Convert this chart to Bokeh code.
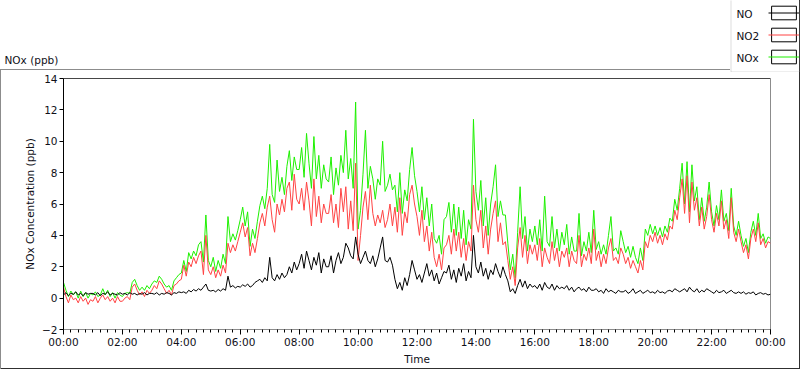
from bokeh.plotting import figure
from bokeh.models import (FixedTicker, Range1d, Legend, LegendItem, Label,
                          BoxAnnotation, Span, ColumnDataSource)
from bokeh.embed import file_html
from bokeh.resources import INLINE

# 5-minute samples, 00:00 .. 24:00 (hours)
step_minutes = 5

no_ppb = [
    0.2, 0.35, 0.15, 0.3, 0.25, 0.4, 0.2, 0.3, 0.15, 0.35, 0.25, 0.3,
    0.3, 0.2, 0.35, 0.15, 0.3, 0.25, 0.4, 0.2, 0.3, 0.25, 0.2, 0.35,
    0.25, 0.3, 0.2, 0.35, 0.25, 0.3, 0.2, 0.3, 0.25, 0.35, 0.2, 0.3,
    0.3, 0.25, 0.35, 0.2, 0.3, 0.25, 0.35, 0.3, 0.2, 0.35, 0.3, 0.4,
    0.35, 0.4, 0.3, 0.5, 0.4, 0.55, 0.45, 0.6, 0.5, 0.7, 0.9, 0.5,
    0.45, 0.5, 0.4, 0.55, 0.45, 0.6, 0.5, 1.4, 0.7, 0.8, 0.65, 0.75,
    0.7, 0.85, 0.75, 0.9, 0.7, 0.8, 1.0, 1.1, 1.2, 1.0, 1.3, 1.1,
    2.6, 1.3, 1.1, 1.5, 1.2, 1.6, 1.3, 1.5, 2.0, 1.6, 2.3, 1.8,
    2.2, 2.8, 1.9, 3.0, 2.4, 1.8, 2.6, 2.1, 2.9, 1.6, 2.5, 2.0,
    2.0, 2.7, 1.6, 2.4, 2.9, 2.2, 2.6, 3.5, 3.2, 2.7, 2.5, 3.9,
    2.8, 2.2, 2.6, 3.0, 2.4, 2.2, 2.7, 2.0, 2.5, 3.2, 3.9, 2.4,
    2.3, 2.6, 2.1, 1.2, 0.6, 1.0, 0.5, 1.3, 0.8, 1.5, 2.4, 1.8,
    1.2, 1.5, 1.0, 1.6, 2.2, 1.4, 1.8, 1.1, 1.6, 0.9, 1.3, 1.7,
    1.6, 2.1, 1.2, 1.8, 1.0, 1.9, 1.4, 2.2, 1.1, 1.7, 1.3, 4.0,
    2.0, 1.6, 2.3, 1.4, 1.9, 1.2, 1.8, 1.5, 2.2, 1.7, 1.3, 2.0,
    1.5, 1.1, 0.4, 0.6, 0.3, 0.8, 1.2, 0.7, 1.1, 0.6, 0.9, 0.7,
    0.8, 0.6, 0.9, 0.5, 1.0, 0.7, 0.6, 0.9, 0.5, 0.8, 0.6, 0.7,
    0.6, 0.8, 0.5, 0.7, 0.4, 0.6, 0.7, 0.5, 0.6, 0.4, 0.7, 0.5,
    0.5, 0.6, 0.4, 0.5, 0.3, 0.6, 0.4, 0.5, 0.4, 0.3, 0.5, 0.4,
    0.4, 0.5, 0.3, 0.4, 0.6, 0.3, 0.4, 0.5, 0.3, 0.4, 0.5, 0.35,
    0.4, 0.3, 0.5, 0.35, 0.4, 0.3, 0.45, 0.5, 0.4, 0.6, 0.5, 0.4,
    0.5, 0.6, 0.4, 0.7, 0.5, 0.4, 0.6, 0.35, 0.5, 0.4, 0.6, 0.5,
    0.4, 0.3, 0.5, 0.35, 0.4, 0.5, 0.3, 0.4, 0.5, 0.35, 0.3, 0.4,
    0.3, 0.4, 0.25, 0.35, 0.3, 0.4, 0.2, 0.3, 0.35, 0.25, 0.3, 0.2,
    0.25,
]

no2_ppb = [
    0.7, 0.1, -0.3, 0.2, -0.1, 0.0, -0.3, 0.1, -0.2, 0.0, -0.4, -0.1,
    -0.2, 0.1, -0.3, 0.0, 0.2, -0.1, 0.1, -0.2, 0.0, -0.3, 0.1, -0.2,
    -0.2, 0.0, 0.1, -0.1, 0.7, 0.9, 0.5, 0.2, 0.4, 0.1, 0.5, 0.3,
    0.5, 0.8, 0.6, 1.1, 0.9, 0.6, 0.3, 0.5, 0.2, 0.8, 0.9, 1.1,
    1.2, 2.1, 1.4, 2.3, 2.0, 2.6, 2.2, 2.7, 3.0, 1.5, 4.0, 1.8,
    1.5, 2.0, 1.3, 1.8, 1.4, 2.1, 1.6, 3.5, 2.9, 3.4, 3.0, 3.6,
    4.2, 4.8, 3.9, 4.5, 2.7, 3.5, 2.9, 3.8, 4.8, 5.4, 4.6, 5.8,
    6.5, 5.0, 4.2, 6.0, 5.3, 6.3, 5.5, 7.0, 7.4, 5.6, 7.9, 6.3,
    6.0, 7.0, 5.6, 7.4, 6.2, 4.6, 7.6, 5.2, 6.5, 4.8, 6.0, 5.4,
    5.4, 6.6, 4.8, 6.0, 4.5, 7.0, 5.5, 7.1, 4.4, 6.2, 4.3, 8.6,
    2.4, 4.0, 5.8, 6.8, 5.0, 7.2, 5.4, 4.6, 5.3, 4.8, 5.6, 4.5,
    5.0, 6.0, 4.6, 5.8, 4.2, 6.4, 4.0, 5.5, 4.8, 6.6, 7.2, 6.0,
    5.2, 4.0, 5.6, 3.6, 4.6, 3.0, 4.2, 2.6, 2.0, 2.8, 1.8, 3.2,
    3.4, 4.0, 2.8, 4.4, 3.0, 4.2, 2.6, 3.8, 2.4, 3.6, 3.0, 7.2,
    5.0, 4.2, 5.6, 3.2, 4.6, 2.8, 4.4, 5.4, 6.2, 3.6, 4.8, 3.4,
    3.6, 2.4, 1.2, 2.0, 0.8, 3.2, 4.5, 2.6, 4.0, 2.2, 3.4, 2.8,
    3.4, 2.4, 3.8, 2.0, 3.2, 2.6, 2.2, 3.6, 2.4, 3.2, 2.0, 3.0,
    2.6, 3.2, 2.0, 3.0, 2.4, 2.2, 4.0, 2.0, 2.8, 2.4, 3.2, 2.2,
    4.4, 2.4, 3.0, 2.0, 2.8, 2.2, 3.2, 3.8, 2.4, 2.6, 2.2, 3.2,
    2.8, 2.2, 2.6, 1.9, 2.4, 2.0, 1.6, 2.4, 1.8, 3.6, 3.2, 4.0,
    3.6, 4.2, 3.5, 4.0, 3.4, 4.1, 3.7, 4.6, 4.4, 5.6, 5.0, 6.4,
    7.6, 5.4, 7.8, 4.8, 7.4, 5.6, 6.4, 4.6, 5.8, 4.4, 5.2, 6.6,
    5.0, 4.2, 5.4, 4.6, 6.2, 4.4, 5.0, 3.8, 6.4, 4.2, 3.6, 4.4,
    3.6, 2.9, 3.4, 2.5, 3.8, 4.4, 3.6, 4.8, 3.4, 3.8, 3.2, 3.6,
    3.5,
]

nox_ppb = [
    1.0, 0.5, 0.1, 0.45, 0.2, 0.4, 0.0, 0.45, 0.1, 0.35, 0.0, 0.3,
    0.2, 0.4, 0.1, 0.2, 0.6, 0.2, 0.5, 0.1, 0.35, 0.0, 0.35, 0.2,
    0.1, 0.3, 0.35, 0.3, 1.0, 1.2, 0.8, 0.5, 0.7, 0.5, 0.8, 0.6,
    0.9, 1.1, 1.0, 1.4, 1.2, 0.9, 0.7, 0.8, 0.5, 1.1, 1.3, 1.5,
    1.6, 2.4, 1.7, 2.9, 2.5, 3.0, 2.7, 3.4, 3.6, 2.3, 5.3, 2.4,
    2.0, 2.6, 1.7, 2.4, 1.9, 2.8, 2.2, 5.2, 3.6, 4.1, 3.7, 4.3,
    5.0, 5.8, 4.6, 5.5, 3.3, 4.4, 3.8, 4.9, 5.9, 6.5, 5.7, 7.0,
    9.8, 6.6, 6.1, 8.8, 6.8, 7.7, 6.6, 8.4, 9.4, 7.5, 9.0, 8.2,
    8.2, 9.6, 7.7, 10.5, 8.6, 7.0, 10.3, 7.6, 9.1, 7.0, 8.5, 7.6,
    7.4, 9.0, 6.6, 8.3, 7.2, 9.1, 8.0, 10.7, 7.6, 8.9, 7.0, 12.5,
    4.4, 5.6, 7.9, 10.7, 7.0, 8.4, 7.6, 6.3, 7.6, 7.2, 10.0, 6.8,
    7.2, 7.9, 6.9, 7.2, 5.5, 8.0, 5.4, 6.9, 6.2, 8.2, 9.6, 7.8,
    6.8, 5.5, 7.1, 5.0, 6.4, 4.6, 6.0, 3.8, 3.5, 4.0, 2.8, 5.0,
    5.2, 6.1, 4.2, 6.0, 4.0, 5.8, 3.8, 5.6, 3.4, 5.0, 4.4, 11.4,
    6.8, 5.6, 7.5, 4.6, 6.4, 4.0, 6.0, 7.1, 8.5, 5.2, 6.2, 5.3,
    5.3, 3.5, 1.8, 2.8, 1.3, 4.2, 7.1, 3.8, 5.2, 3.0, 4.4, 3.6,
    4.6, 3.4, 5.0, 3.0, 6.5, 3.6, 3.3, 5.2, 3.2, 4.4, 3.0, 4.2,
    3.4, 4.7, 2.8, 3.9, 3.0, 3.0, 5.4, 2.7, 3.6, 3.0, 4.2, 2.9,
    5.6, 3.1, 3.6, 2.8, 3.4, 2.8, 4.0, 5.2, 3.0, 3.2, 2.8, 4.3,
    3.6, 2.9, 3.3, 2.6, 3.3, 2.6, 2.2, 3.2, 2.4, 4.4, 4.0, 4.7,
    4.1, 4.6, 4.0, 4.5, 3.9, 4.6, 4.2, 5.1, 4.9, 6.3, 5.6, 7.0,
    8.6, 6.0, 8.7, 5.5, 8.5, 6.2, 7.1, 5.0, 6.4, 4.9, 5.8, 7.4,
    5.5, 4.6, 5.9, 5.0, 6.9, 4.9, 5.4, 4.3, 7.0, 4.6, 4.0, 4.9,
    4.0, 3.3, 3.8, 2.9, 4.2, 4.9, 4.0, 5.4, 3.8, 4.1, 3.5, 3.9,
    3.8,
]

hours = [i * step_minutes / 60 for i in range(len(no_ppb))]

tick_hours = [0, 2, 4, 6, 8, 10, 12, 14, 16, 18, 20, 22, 24]
tick_labels = ["00:00", "02:00", "04:00", "06:00", "08:00", "10:00", "12:00",
               "14:00", "16:00", "18:00", "20:00", "22:00", "00:00"]
y_ticks = [-2, 0, 2, 4, 6, 8, 10, 12, 14]
series_names = ["NO", "NO2", "NOx"]
series_fields = ["no", "no2", "nox"]
series_colors = ["#000000", "#ff4343", "#1ef000"]
panel_caption = "NOx (ppb)"

FONT = "DejaVu Sans"
FS = "10.5px"
TXT = "#101018"
GREY = "#8c8c8c"
DARK = "#303030"

# panel edges drawn as CSS backgrounds of the chart element
edge = lambda c: "linear-gradient(%s,%s)" % (c, c)
panel_styles = {
    "background-image": ", ".join([edge(GREY), edge(GREY), edge(DARK), edge(DARK)]),
    "background-position": "0px 69px, 0px 69px, 0px 368px, 799px 0px",
    "background-size": "730px 1px, 1px 300px, 800px 1px, 1px 369px",
    "background-repeat": "no-repeat",
}

src = ColumnDataSource(dict(t=hours, no=no_ppb, no2=no2_ppb, nox=nox_ppb))

# ---------------- main chart ----------------
p = figure(frame_width=707, frame_height=251,
           min_border_left=63, min_border_right=30,
           min_border_top=78, min_border_bottom=40,
           x_range=Range1d(0, 24), y_range=Range1d(-2, 14),
           output_backend="svg", toolbar_location=None,
           background_fill_color="white", border_fill_color=None)
p.styles = panel_styles
p.grid.visible = False
p.outline_line_color = GREY

# draw order: NOx (back), NO2, NO (front)
for field, col in zip(series_fields[::-1], series_colors[::-1]):
    p.line("t", field, source=src, color=col, line_width=1)

xa = p.xaxis[0]
xa.ticker = FixedTicker(ticks=tick_hours,
                        minor_ticks=[i / 4 for i in range(0, 97)])
xa.major_label_overrides = {h: lab for h, lab in zip(tick_hours, tick_labels)}
xa.axis_label = "Time"
xa.axis_line_color = GREY
xa.major_tick_line_color = "black"
xa.minor_tick_line_color = "black"
xa.major_tick_in = 0
xa.major_tick_out = 5
xa.minor_tick_in = 0
xa.minor_tick_out = 3
xa.major_label_standoff = 1
xa.axis_label_standoff = 2

ya = p.yaxis[0]
ya.ticker = FixedTicker(ticks=y_ticks, minor_ticks=[])
ya.axis_label = "NOx Concentration (ppb)"
ya.axis_line_color = "black"
ya.major_tick_line_color = "black"
ya.major_tick_in = 0
ya.major_tick_out = 4
ya.major_label_standoff = 2
ya.axis_label_standoff = 3

for ax in (xa, ya):
    ax.major_label_text_font = FONT
    ax.major_label_text_font_size = FS
    ax.major_label_text_color = TXT
    ax.axis_label_text_font = FONT
    ax.axis_label_text_font_size = FS
    ax.axis_label_text_font_style = "normal"
    ax.axis_label_text_color = TXT

p.add_layout(Span(location=14, dimension="width", line_color="black",
                  line_width=1))

# ---------------- header overlay: caption + legend (pixel coordinates) ----
top = figure(width=800, height=72, min_border=0,
             min_border_left=0, min_border_right=0,
             min_border_top=0, min_border_bottom=0,
             x_range=Range1d(0, 800), y_range=Range1d(72, 0),
             x_axis_type=None, y_axis_type=None,
             output_backend="svg", toolbar_location=None,
             background_fill_alpha=0, border_fill_color=None)
top.styles = {"position": "absolute", "left": "0px", "top": "0px",
              "z-index": "2"}
top.grid.visible = False
top.outline_line_color = None

top.add_layout(BoxAnnotation(left=730.5, right=799.5, top=-5, bottom=71.5,
                             fill_alpha=0, line_color=GREY, line_width=1))
top.add_layout(Label(x=4, y=59, text=panel_caption, text_font=FONT,
                     text_font_size=FS, text_baseline="middle",
                     text_color=TXT))

# legend proxies: the series themselves, hidden in this header strip
swatch_box = top.quad(left="t", right="t", bottom="no", top="nox", source=src,
                      fill_color="white", line_color="black", line_width=1,
                      visible=False)
items = []
for i, (name, field, col) in enumerate(zip(series_names, series_fields,
                                           series_colors)):
    rl = top.line("t", field, source=src, color=col, line_width=1,
                  visible=False)
    items.append(LegendItem(label=" ", renderers=[swatch_box, rl]))
    top.add_layout(Label(x=736, y=13 + 22 * i, text=name, text_font=FONT,
                         text_font_size=FS, text_baseline="middle",
                         text_color=TXT))
leg = Legend(items=items, location=(768, 7), orientation="vertical",
             glyph_width=31, glyph_height=17, spacing=5, padding=0, margin=0,
             label_standoff=0, label_width=0, label_height=17,
             label_text_font_size="1px", inactive_fill_alpha=0,
             border_line_color=None, background_fill_alpha=0)
top.add_layout(leg, "center")

open("out.html", "w").write(file_html([p, top], INLINE))
